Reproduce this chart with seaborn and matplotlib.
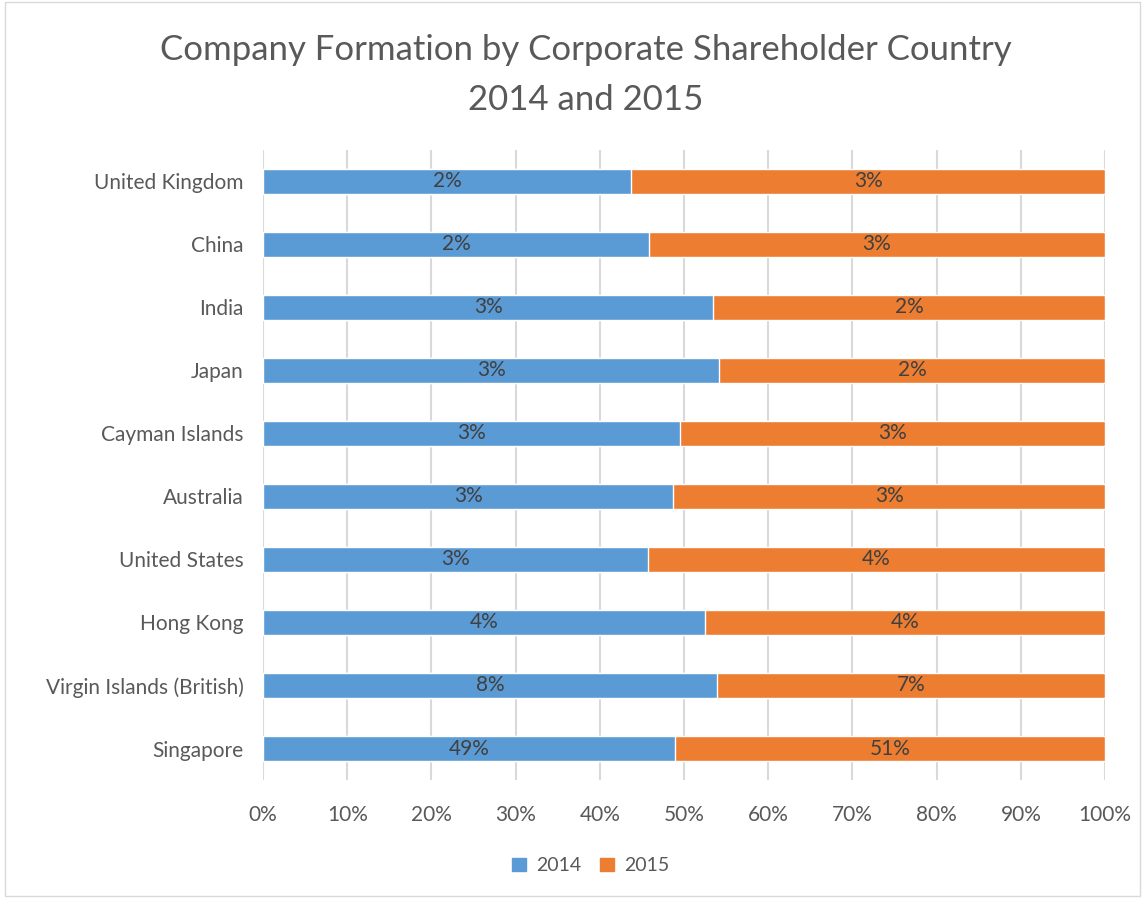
import pandas as pd
import seaborn as sns
import matplotlib.pyplot as plt
from matplotlib.patches import Patch

countries = ["United Kingdom", "China", "India", "Japan", "Cayman Islands",
             "Australia", "United States", "Hong Kong",
             "Virgin Islands (British)", "Singapore"]
share_2014 = [2.1, 2.2, 2.7, 2.6, 2.8, 2.9, 3.2, 4.2, 7.9, 49.1]
share_2015 = [2.7, 2.6, 2.35, 2.2, 2.85, 3.05, 3.8, 3.8, 6.75, 51.3]
years = ["2014", "2015"]
colors = ["#5B9BD5", "#ED7D31"]

df = pd.DataFrame({"country": countries, "y2014": share_2014, "y2015": share_2015})
df["total"] = df["y2014"] + df["y2015"]
df["p2014"] = df["y2014"] / df["total"] * 100
df["p2015"] = 100.0

sns.set_theme(style="white")
plt.rcParams['font.family'] = ['Lato', 'DejaVu Sans']
text_col = "#595959"

fig = plt.figure(figsize=(11.47, 8.98), dpi=100)
ax = fig.add_axes([0.2293, 0.1314, 0.7341, 0.7016])

sns.barplot(data=df, y="country", x="p2015", order=countries, color=colors[1],
            orient="h", width=0.41, saturation=1, ax=ax, zorder=3)
sns.barplot(data=df, y="country", x="p2014", order=countries, color=colors[0],
            orient="h", width=0.41, saturation=1, ax=ax, zorder=3)

# data labels: actual share values, centered in each segment
for i, row in df.iterrows():
    ax.text(row["p2014"] / 2, i, f"{round(row['y2014'])}%", ha="center", va="center",
            fontsize=15, color="#404040", zorder=4)
    ax.text((row["p2014"] + 100) / 2, i, f"{round(row['y2015'])}%", ha="center",
            va="center", fontsize=15, color="#404040", zorder=4)

ax.set_xlim(0, 100)
ax.set_ylim(9.5, -0.5)
ax.set_xticks(range(0, 101, 10))
ax.set_xticklabels([f"{t}%" for t in range(0, 101, 10)])
ax.grid(axis="x", color="#D9D9D9", linewidth=1.5, zorder=0)
for s in ax.spines.values():
    s.set_visible(False)
ax.tick_params(axis="both", length=0, labelsize=15, colors=text_col)
ax.tick_params(axis="x", pad=18)
ax.tick_params(axis="y", pad=14)
ax.set_xlabel("")
ax.set_ylabel("")

fig.text(0.511, 0.944, "Company Formation by Corporate Shareholder Country",
         ha="center", va="center", fontsize=25, color=text_col)
fig.text(0.511, 0.889, "2014 and 2015", ha="center", va="center", fontsize=25,
         color=text_col)

handles = [Patch(color=c, label=y) for c, y in zip(colors, years)]
fig.legend(handles=handles, loc="center", bbox_to_anchor=(0.515, 0.036), ncol=2,
           frameon=False, fontsize=14, labelcolor=text_col, handlelength=0.7,
           handleheight=0.7, columnspacing=1.0, handletextpad=0.5)

# chart border
fig.add_artist(plt.Rectangle((0.004, 0.002), 0.99, 0.996, fill=False,
                             edgecolor="#D9D9D9", linewidth=1, transform=fig.transFigure))

fig.savefig("out.png", dpi=100)
